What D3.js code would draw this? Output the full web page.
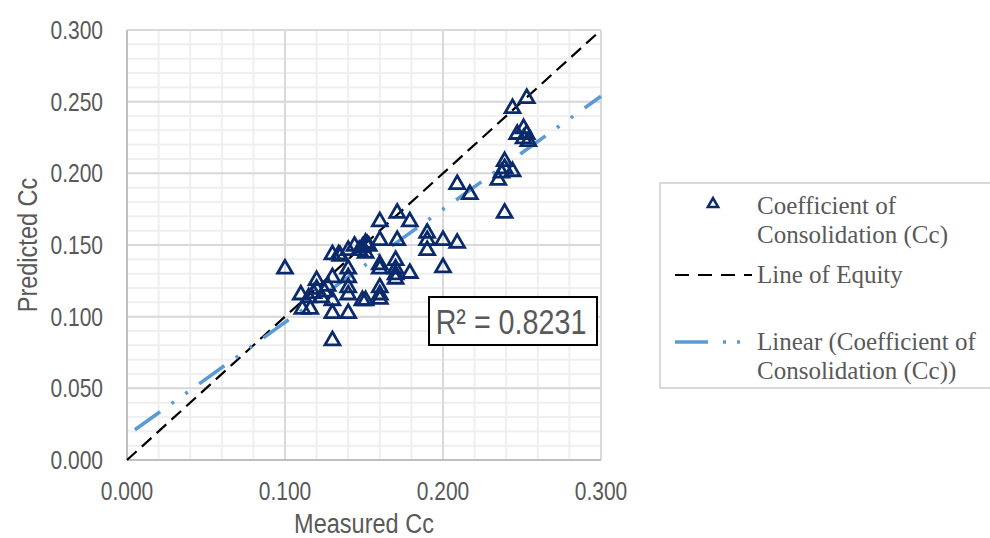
<!DOCTYPE html>
<html>
<head>
<meta charset="utf-8">
<script src="https://cdn.jsdelivr.net/npm/d3@7"></script>
<style>
  body { margin: 0; background: #fff; }
  svg { display: block; }
  .narrow { font-family: "Liberation Sans Narrow", "Arial Narrow", "Liberation Sans", sans-serif; fill: #595959; }
</style>
</head>
<body>
<svg width="990" height="538"></svg>
<script>
// Data set
var measuredCc = [
  0.100, 0.110, 0.111, 0.116, 0.120, 0.118, 0.115, 0.123, 0.125, 0.120,
  0.130, 0.127, 0.130, 0.130, 0.130, 0.130, 0.134, 0.140, 0.140, 0.140,
  0.140, 0.140, 0.140, 0.149, 0.149, 0.152, 0.144, 0.147, 0.153, 0.135,
  0.209, 0.171, 0.160, 0.179, 0.190, 0.190, 0.190, 0.200, 0.209, 0.200,
  0.160, 0.171, 0.151, 0.151, 0.160, 0.160, 0.170, 0.170, 0.170, 0.170,
  0.179, 0.160, 0.160, 0.160, 0.151, 0.217,
  0.253, 0.244, 0.251, 0.247, 0.253, 0.251, 0.254, 0.239, 0.239, 0.237,
  0.244, 0.235, 0.239
];
var predictedCc = [
  0.134, 0.116, 0.106, 0.106, 0.126, 0.117, 0.114, 0.114, 0.118, 0.120,
  0.128, 0.122, 0.112, 0.103, 0.084, 0.144, 0.144, 0.147, 0.134, 0.128,
  0.121, 0.116, 0.103, 0.112, 0.149, 0.151, 0.150, 0.147, 0.150, 0.143,
  0.193, 0.173, 0.167, 0.167, 0.159, 0.154, 0.147, 0.154, 0.152, 0.135,
  0.154, 0.154, 0.152, 0.145, 0.137, 0.134, 0.140, 0.134, 0.130, 0.127,
  0.131, 0.121, 0.116, 0.113, 0.112, 0.186,
  0.253, 0.246, 0.232, 0.228, 0.228, 0.225, 0.223, 0.209, 0.204, 0.201,
  0.202, 0.196, 0.173
];
var xTicks = [0, 0.1, 0.2, 0.3];
var yTicks = [0, 0.05, 0.1, 0.15, 0.2, 0.25, 0.3];
var trendSlope = 0.789;
var trendIntercept = 0.0171;
var trendRange = [0.005, 0.3];
var equityRange = [0, 0.3];
var rSquared = "R² = 0.8231";
var legendItems = [
  {'lines': ["Coefficient of", "Consolidation (Cc)"], 'kind': 'marker'},
  {'lines': ["Line of Equity"], 'kind': 'equity'},
  {'lines': ["Linear (Coefficient of", "Consolidation (Cc))"], 'kind': 'trend'}
];

var svg = d3.select("svg");
var fmt = d3.format(".3f");
var squeeze = 0.84; // no narrow font installed, so squash the sans text

// Scales
var xScale = d3.scaleLinear().domain([0, 0.3]).range([127, 601]);
var yScale = d3.scaleLinear().domain([0, 0.3]).range([460, 30]);

// Minor grid
var minorX = d3.range(0, 0.3001, 0.02);
var minorY = d3.range(0, 0.3001, 0.01);
svg.append("g").selectAll("line").data(minorX).enter().append("line")
  .attr("x1", function(d) { return xScale(d); }).attr("x2", function(d) { return xScale(d); })
  .attr("y1", yScale(0)).attr("y2", yScale(0.3))
  .attr("stroke", "#efefef").attr("stroke-width", 2);
svg.append("g").selectAll("line").data(minorY).enter().append("line")
  .attr("y1", function(d) { return yScale(d); }).attr("y2", function(d) { return yScale(d); })
  .attr("x1", xScale(0)).attr("x2", xScale(0.3))
  .attr("stroke", "#efefef").attr("stroke-width", 2);

// Major grid
svg.append("g").selectAll("line").data(xTicks).enter().append("line")
  .attr("x1", function(d) { return xScale(d); }).attr("x2", function(d) { return xScale(d); })
  .attr("y1", yScale(0)).attr("y2", yScale(0.3))
  .attr("stroke", "#d9d9d9").attr("stroke-width", 2);
svg.append("g").selectAll("line").data(yTicks).enter().append("line")
  .attr("y1", function(d) { return yScale(d); }).attr("y2", function(d) { return yScale(d); })
  .attr("x1", xScale(0)).attr("x2", xScale(0.3))
  .attr("stroke", "#d9d9d9").attr("stroke-width", 2);

// Axis lines
svg.append("line").attr("x1", xScale(0)).attr("x2", xScale(0))
  .attr("y1", yScale(0)).attr("y2", yScale(0.3)).attr("stroke", "#bfbfbf").attr("stroke-width", 2);
svg.append("line").attr("x1", xScale(0)).attr("x2", xScale(0.3))
  .attr("y1", yScale(0)).attr("y2", yScale(0)).attr("stroke", "#bfbfbf").attr("stroke-width", 2);

// Tick labels
svg.append("g").selectAll("text").data(yTicks).enter().append("text")
  .attr("class", "narrow")
  .attr("transform", function(d) { return "translate(103," + (yScale(d) + 9) + ") scale(" + squeeze + ",1)"; })
  .attr("text-anchor", "end").attr("font-size", "25px")
  .text(function(d) { return fmt(d); });
svg.append("g").selectAll("text").data(xTicks).enter().append("text")
  .attr("class", "narrow")
  .attr("transform", function(d) { return "translate(" + xScale(d) + ",500) scale(" + squeeze + ",1)"; })
  .attr("text-anchor", "middle").attr("font-size", "25px")
  .text(function(d) { return fmt(d); });

// Axis titles
svg.append("text").attr("class", "narrow")
  .attr("transform", "translate(364,533) scale(" + squeeze + ",1)")
  .attr("text-anchor", "middle").attr("font-size", "28px")
  .text("Measured Cc");
svg.append("text").attr("class", "narrow")
  .attr("transform", "translate(37,245) rotate(-90) scale(" + squeeze + ",1)")
  .attr("text-anchor", "middle").attr("font-size", "28px")
  .text("Predicted Cc");

// Line of equity
svg.append("path")
  .datum(equityRange)
  .attr("fill", "none").attr("stroke", "#000").attr("stroke-width", 2.2)
  .attr("stroke-dasharray", "13,7")
  .attr("d", d3.line()
    .x(function(d) { return xScale(d); })
    .y(function(d) { return yScale(d); }));

// Linear trend
svg.append("path")
  .datum(trendRange)
  .attr("fill", "none").attr("stroke", "#5b9bd5").attr("stroke-width", 3.6)
  .attr("stroke-dasharray", "31,14,3,14,3,14")
  .attr("d", d3.line()
    .x(function(d) { return xScale(d); })
    .y(function(d) { return yScale(trendIntercept + trendSlope * d); }));

// Points
var tri = d3.symbol().type(d3.symbolTriangle).size(95);
svg.append("g").selectAll("path").data(measuredCc).enter().append("path")
  .attr("d", tri)
  .attr("transform", function(d, i) { return "translate(" + xScale(d) + "," + (yScale(predictedCc[i]) + 1) + ")"; })
  .attr("fill", "none").attr("stroke", "#0b2a6b").attr("stroke-width", 2.8);

// R squared label
var rBox = svg.append("g");
rBox.append("rect").attr("x", 429).attr("y", 297).attr("width", 168).attr("height", 48)
  .attr("fill", "#fff").attr("stroke", "#000").attr("stroke-width", 2);
rBox.append("text").attr("class", "narrow")
  .attr("transform", "translate(511,334) scale(0.82,1)")
  .attr("text-anchor", "middle").attr("font-size", "35px")
  .text(rSquared);

// Legend
var legend = svg.append("g");
legend.append("rect").attr("x", 660).attr("y", 183).attr("width", 340).attr("height", 205)
  .attr("fill", "#fff").attr("stroke", "#d9d9d9").attr("stroke-width", 2);
var rowY = [214, 283, 350];
legendItems.forEach(function(item, i) {
  item.lines.forEach(function(t, j) {
    legend.append("text")
      .attr("x", 757).attr("y", rowY[i] + j * 29)
      .attr("font-family", "'Liberation Serif', 'Times New Roman', serif")
      .attr("font-size", "25px").attr("fill", "#595959")
      .text(t);
  });
  var cy = rowY[i] - 8;
  if (item.kind === 'marker') {
    legend.append("path").attr("d", d3.symbol().type(d3.symbolTriangle).size(45))
      .attr("transform", "translate(713," + (cy - 2) + ")")
      .attr("fill", "none").attr("stroke", "#0b2a6b").attr("stroke-width", 2.6);
  } else if (item.kind === 'equity') {
    legend.append("line").attr("x1", 675).attr("x2", 752).attr("y1", cy).attr("y2", cy)
      .attr("stroke", "#000").attr("stroke-width", 2.2).attr("stroke-dasharray", "14,9");
  } else {
    legend.append("line").attr("x1", 675).attr("x2", 745).attr("y1", cy).attr("y2", cy)
      .attr("stroke", "#5b9bd5").attr("stroke-width", 3.6).attr("stroke-dasharray", "33,15,3,11,3,20");
  }
});
</script>
</body>
</html>
